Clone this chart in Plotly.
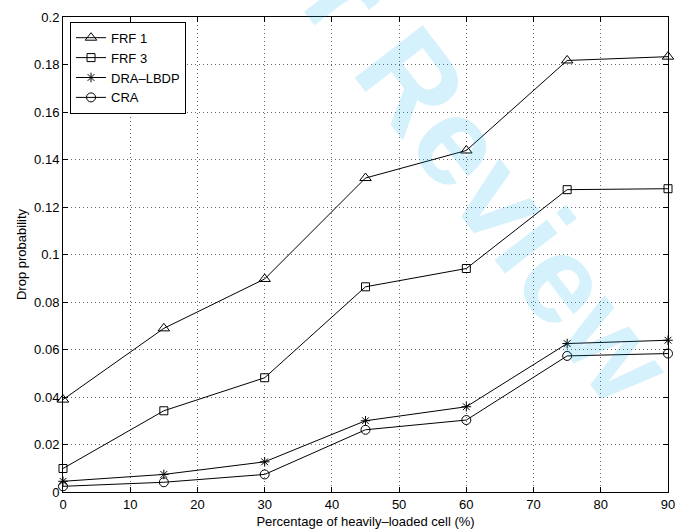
import plotly.graph_objects as go

x_vals = [0, 15, 30, 45, 60, 75, 90]
frf1 = [0.0389, 0.0689, 0.0897, 0.1322, 0.1438, 0.1817, 0.1833]
frf3 = [0.0099, 0.0342, 0.0481, 0.0864, 0.0941, 0.1273, 0.1277]
dra_lbdp = [0.0045, 0.0074, 0.0127, 0.0300, 0.0359, 0.0625, 0.0639]
cra = [0.0024, 0.0041, 0.0074, 0.0262, 0.0303, 0.0573, 0.0583]

series_names = ["FRF 1", "FRF 3", "DRA\u2013LBDP", "CRA"]
series_vals = [frf1, frf3, dra_lbdp, cra]
symbols = ["triangle-up-open", "square-open", "asterisk-open", "circle-open"]
sizes = [10, 8, 8, 9]

x_ticks = list(range(0, 91, 10))
y_ticks = [0, 0.02, 0.04, 0.06, 0.08, 0.1, 0.12, 0.14, 0.16, 0.18, 0.2]
y_tick_text = ["0", "0.02", "0.04", "0.06", "0.08", "0.1", "0.12", "0.14", "0.16", "0.18", "0.2"]

FONT = "Liberation Sans, Arial, Helvetica, sans-serif"

fig = go.Figure()
for name, vals, sym, sz in zip(series_names, series_vals, symbols, sizes):
    fig.add_trace(go.Scatter(
        x=x_vals, y=vals, name=name, mode="lines+markers",
        line=dict(color="black", width=1),
        marker=dict(symbol=sym, size=sz, color="black", line=dict(color="black", width=1)),
        cliponaxis=False,
    ))

axis_common = dict(
    showline=True, linecolor="black", linewidth=1, mirror="allticks",
    ticks="inside", ticklen=5, tickcolor="black", tickwidth=1,
    showgrid=True, gridcolor="#666666", gridwidth=1, griddash="1px,3px",
    zeroline=False, tickfont=dict(family=FONT, size=13, color="black"),
    automargin=False,
)

fig.update_xaxes(range=[0, 90], tickvals=x_ticks,
                 title=dict(text="Percentage of heavily\u2013loaded cell (%)",
                            font=dict(family=FONT, size=13, color="black"), standoff=6),
                 **axis_common)
fig.update_yaxes(range=[0, 0.2], tickvals=y_ticks, ticktext=y_tick_text,
                 title=dict(text="Drop probability",
                            font=dict(family=FONT, size=13, color="black"), standoff=4),
                 **axis_common)

fig.add_annotation(
    text="<b>For Peer Review</b>", xref="paper", yref="paper",
    x=0.475, y=1.035, xanchor="center", yanchor="middle",
    textangle=52.5, showarrow=False,
    font=dict(family=FONT, size=125, color="rgba(0,170,240,0.17)"),
)

fig.update_layout(
    width=677, height=529,
    margin=dict(l=63, r=9, t=17, b=37, autoexpand=False),
    paper_bgcolor="white", plot_bgcolor="white",
    showlegend=True,
    legend=dict(x=0.0116, y=0.99, xanchor="left", yanchor="top",
                bordercolor="black", borderwidth=1, bgcolor="white",
                font=dict(family=FONT, size=13, color="black"),
                itemwidth=30, tracegroupgap=0),
)

fig.write_html("out.html")
